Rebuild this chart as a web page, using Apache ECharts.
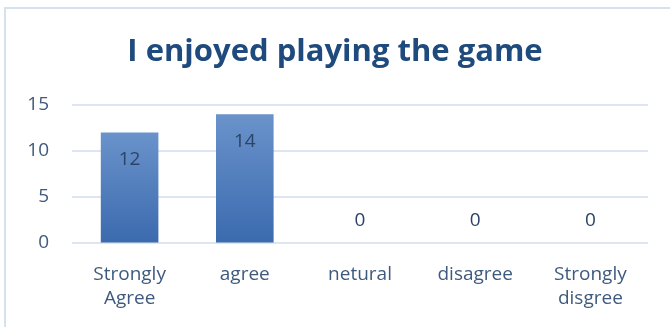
<!DOCTYPE html>
<html>
<head>
<meta charset="utf-8">
<script src="https://cdn.jsdelivr.net/npm/echarts@6/dist/echarts.min.js"></script>
<style>
  html, body { margin: 0; padding: 0; background: #fff; }
  #chart { width: 670px; height: 327px; }
</style>
</head>
<body>
<div id="chart"></div>
<script>
const categories = ['Strongly Agree', 'agree', 'netural', 'disagree', 'Strongly disgree'];
const responses = [12, 14, 0, 0, 0];
const yTicks = { min: 0, max: 15, interval: 5 };

const chart = echarts.init(document.getElementById('chart'), null, { renderer: 'canvas' });

const textColor = '#3f5a7e';
const font = '"Open Sans", Lato, sans-serif';

// zero-height bars get their label above the baseline, like Excel does
const barData = responses.map(v => ({
  value: v,
  label: v === 0
    ? { position: 'top', distance: 12 }
    : { position: 'insideTop', distance: 18 }
}));

const option = {
  animation: false,
  graphic: [{
    type: 'rect',
    shape: { x: 5, y: 8, width: 720, height: 400 },
    style: { fill: 'none', stroke: '#d6e1ee', lineWidth: 2 },
    silent: true
  }],
  title: {
    text: 'I enjoyed playing the game',
    left: 'center',
    top: 32,
    textStyle: {
      fontFamily: font,
      fontSize: 31,
      fontWeight: 'bold',
      color: '#1f4a7d'
    }
  },
  grid: {
    left: 72,
    right: 22,
    top: 105,
    bottom: 84.5
  },
  xAxis: {
    type: 'category',
    data: categories,
    axisLine: { show: false },
    axisTick: { show: false },
    axisLabel: {
      interval: 0,
      margin: 20,
      color: textColor,
      fontFamily: font,
      fontSize: 19,
      lineHeight: 24,
      formatter: v => v.replace(' ', '\n')
    }
  },
  yAxis: {
    type: 'value',
    min: yTicks.min,
    max: yTicks.max,
    interval: yTicks.interval,
    axisLine: { show: false },
    axisTick: { show: false },
    axisLabel: {
      margin: 23,
      color: textColor,
      fontFamily: font,
      fontSize: 19
    },
    splitLine: { lineStyle: { color: '#dce5f1', width: 2 } }
  },
  series: [{
    type: 'bar',
    data: barData,
    barWidth: '50%',
    itemStyle: {
      color: new echarts.graphic.LinearGradient(0, 0, 0, 1, [
        { offset: 0, color: '#6a93cb' },
        { offset: 1, color: '#3b6aae' }
      ])
    },
    label: {
      show: true,
      color: '#2b4466',
      fontFamily: font,
      fontSize: 19
    }
  }]
};

chart.setOption(option);
</script>
</body>
</html>
